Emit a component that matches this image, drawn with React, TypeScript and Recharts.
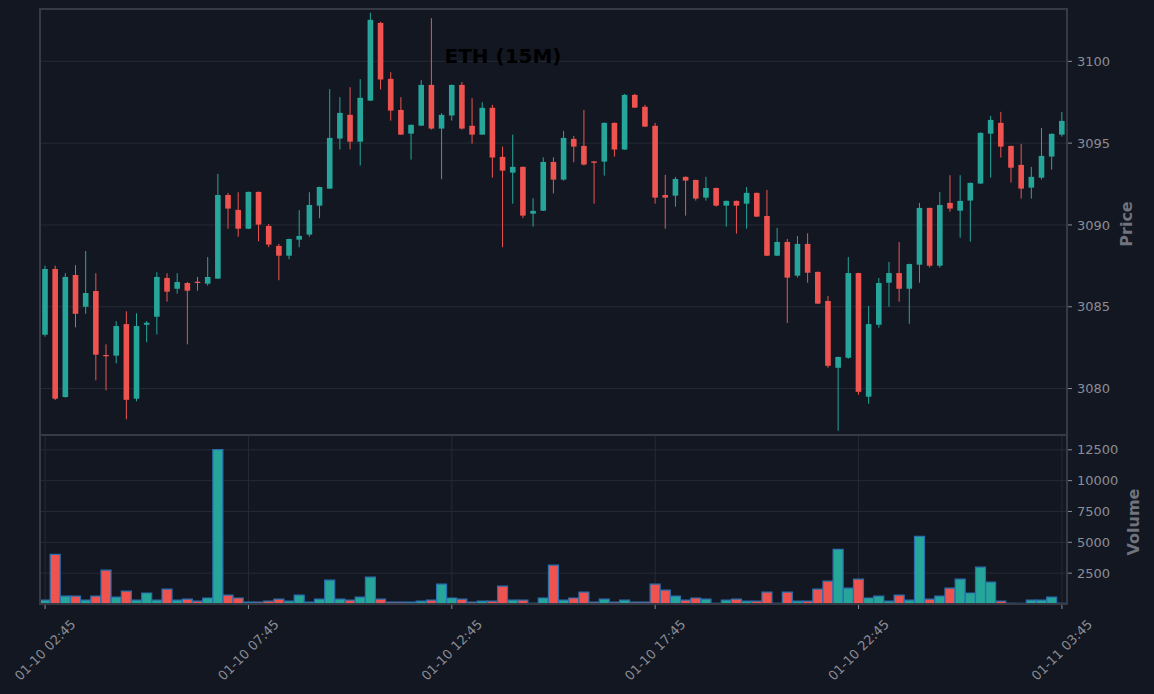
import { ComposedChart, Bar, XAxis, YAxis, CartesianGrid, Cell } from "recharts";

const W = 1154;
const H = 694;
const BG = "#131722";
const UP = "#26a69a";
const DOWN = "#ef5350";
const GRID = "#252a35";
const SPINE = "#363a45";
const TICK = "#8a8d95";
const LABEL = "#70737d";
const EDGE = "#2a70b0";

// 15-minute candles, 01-10 02:45 -> 01-11 03:45
const OPEN = [
  3083.29, 3087.31, 3079.48, 3086.94, 3085.0, 3085.96, 3082.05, 3082.01, 3083.94, 3079.38,
  3083.9, 3084.39, 3086.76, 3086.1, 3086.45, 3086.53, 3086.41, 3086.72, 3091.83, 3090.92,
  3089.77, 3092.02, 3089.94, 3088.72, 3088.12, 3089.1, 3089.41, 3091.18, 3092.22, 3095.28,
  3096.73, 3095.09, 3097.6, 3102.35, 3098.93, 3097.03, 3095.58, 3096.07, 3098.56, 3095.89,
  3096.69, 3098.56, 3096.06, 3095.52, 3097.16, 3094.16, 3093.2, 3093.55, 3090.69, 3090.87,
  3093.85, 3092.77, 3095.26, 3094.83, 3093.88, 3093.87, 3096.24, 3094.61, 3097.95, 3097.22,
  3096.06, 3091.83, 3091.79, 3092.94, 3092.75, 3091.67, 3092.26, 3091.18, 3091.47, 3091.3,
  3091.96, 3090.55, 3088.12, 3088.96, 3086.9, 3088.84, 3087.13, 3085.35, 3081.27, 3081.88,
  3087.06, 3079.5, 3083.9, 3086.47, 3087.06, 3086.1, 3087.57, 3091.04, 3087.51, 3091.35,
  3090.87, 3091.49, 3092.53, 3095.58, 3096.24, 3094.83, 3093.67, 3092.28, 3092.89, 3094.18,
  3095.52,
];
const CLOSE = [
  3087.31, 3079.38, 3086.82, 3084.57, 3085.84, 3082.07, 3082.03, 3083.82, 3079.31, 3083.82,
  3084.02, 3086.82, 3085.92, 3086.51, 3085.98, 3086.5, 3086.82, 3091.83, 3091.0, 3089.77,
  3092.02, 3090.02, 3088.8, 3088.12, 3089.14, 3089.33, 3091.22, 3092.32, 3095.32, 3096.85,
  3095.09, 3097.77, 3102.54, 3098.89, 3096.99, 3095.52, 3096.12, 3098.56, 3095.89, 3096.73,
  3098.56, 3095.89, 3095.52, 3097.16, 3094.12, 3093.32, 3093.55, 3090.57, 3090.86, 3093.85,
  3092.77, 3095.32, 3094.79, 3093.69, 3093.85, 3096.24, 3094.61, 3097.95, 3097.17, 3096.01,
  3091.67, 3091.67, 3092.81, 3092.71, 3091.61, 3092.26, 3091.18, 3091.47, 3091.18, 3091.96,
  3090.51, 3088.12, 3088.96, 3086.78, 3088.84, 3087.08, 3085.19, 3081.39, 3081.93, 3087.06,
  3079.8, 3083.94, 3086.45, 3087.06, 3086.1, 3087.61, 3091.04, 3087.51, 3091.22, 3091.0,
  3091.47, 3092.57, 3095.63, 3096.42, 3094.79, 3093.5, 3092.22, 3092.94, 3094.22, 3095.57,
  3096.36,
];
const HIGH = [
  3087.51, 3087.51, 3087.05, 3087.54, 3088.41, 3087.05, 3082.7, 3084.11, 3084.72, 3084.6,
  3084.13, 3087.11, 3087.05, 3087.05, 3086.51, 3086.82, 3088.04, 3093.12, 3091.96, 3092.0,
  3092.04, 3092.04, 3090.06, 3088.84, 3089.16, 3090.9, 3092.0, 3092.34, 3098.3, 3097.81,
  3098.42, 3098.91, 3102.97, 3102.42, 3099.34, 3097.81, 3096.14, 3098.85, 3102.64, 3096.83,
  3098.58, 3098.73, 3097.75, 3097.5, 3097.34, 3094.79, 3095.52, 3093.57, 3091.63, 3094.13,
  3094.13, 3095.75, 3095.44, 3097.03, 3093.91, 3096.26, 3096.26, 3098.01, 3098.01, 3097.34,
  3096.24, 3093.06, 3092.94, 3092.96, 3092.77, 3092.94, 3092.28, 3091.49, 3091.49, 3092.32,
  3091.98, 3092.14, 3089.82, 3089.14, 3089.33, 3089.49, 3087.15, 3085.66, 3081.95, 3088.04,
  3087.08, 3085.05, 3086.76, 3087.74, 3088.96, 3087.63, 3091.35, 3091.06, 3092.02, 3093.04,
  3093.04, 3092.59, 3095.65, 3096.67, 3096.91, 3094.85, 3094.95, 3093.55, 3095.93, 3095.59,
  3096.91,
];
const LOW = [
  3083.17, 3079.3, 3079.45, 3083.74, 3084.57, 3080.5, 3079.89, 3081.54, 3078.12, 3079.22,
  3082.83, 3083.31, 3085.31, 3085.8, 3082.7, 3085.98, 3086.29, 3086.7, 3089.77, 3089.28,
  3089.75, 3089.0, 3088.64, 3086.62, 3087.9, 3088.64, 3089.28, 3090.41, 3092.2, 3094.61,
  3094.61, 3093.63, 3097.58, 3098.28, 3096.38, 3095.5, 3093.99, 3096.05, 3095.83, 3092.8,
  3096.38, 3095.83, 3094.97, 3095.5, 3092.89, 3088.64, 3091.3, 3090.41, 3089.9, 3090.85,
  3091.93, 3092.71, 3093.83, 3093.63, 3091.3, 3093.02, 3094.18, 3094.59, 3097.15, 3095.99,
  3091.3, 3089.77, 3091.12, 3090.57, 3091.49, 3091.49, 3091.12, 3089.9, 3089.47, 3089.77,
  3090.49, 3088.1, 3088.1, 3084.01, 3086.78, 3086.47, 3085.17, 3081.27, 3077.42, 3081.82,
  3079.62, 3079.07, 3083.72, 3085.0, 3085.31, 3083.96, 3086.47, 3087.39, 3087.39, 3090.81,
  3089.22, 3088.98, 3092.51, 3092.89, 3094.12, 3092.59, 3091.61, 3091.61, 3092.77, 3093.38,
  3095.4,
];
const VOLUME = [
  320, 4030, 645, 645, 320, 645, 2740, 565, 1050, 320,
  890, 320, 1210, 320, 400, 240, 485, 12520, 725, 485,
  160, 160, 240, 400, 240, 725, 160, 400, 1935, 400,
  320, 565, 2180, 400, 160, 160, 160, 240, 320, 1610,
  485, 400, 160, 240, 240, 1450, 320, 320, 60, 485,
  3145, 320, 485, 970, 160, 400, 160, 320, 160, 160,
  1610, 1130, 645, 320, 485, 400, 60, 320, 400, 240,
  240, 970, 60, 970, 240, 240, 1210, 1855, 4435, 1290,
  2015, 485, 645, 240, 725, 320, 5485, 400, 645, 1290,
  2015, 890, 2985, 1775, 240, 60, 60, 320, 320, 565,
  60,
];

const PRICE_TICKS = [3080, 3085, 3090, 3095, 3100];
const VOLUME_TICKS = [2500, 5000, 7500, 10000, 12500];
const LABEL_EVERY = 20;

const pad = (n: number) => String(n).padStart(2, "0");
function timeLabel(i: number) {
  const mins = 2 * 60 + 45 + i * 15;
  const day = 10 + Math.floor(mins / 1440);
  const m = mins % 1440;
  return `01-${pad(day)} ${pad(Math.floor(m / 60))}:${pad(m % 60)}`;
}

const rows = OPEN.map((o, i) => ({
  t: timeLabel(i),
  open: o,
  close: CLOSE[i],
  high: HIGH[i],
  low: LOW[i],
  range: [LOW[i], HIGH[i]],
  volume: VOLUME[i],
  up: CLOSE[i] >= o,
}));
const xTicks = rows.filter((_, i) => i % LABEL_EVERY === 0).map((r) => r.t);

function Candle(props: any) {
  const { x, y, width, height, payload } = props;
  const { open, close, high, low } = payload;
  const h = Math.abs(height);
  const top0 = Math.min(y, y + height);
  const k = h / (high - low);
  const cx = x + width / 2;
  const top = top0 + (high - Math.max(open, close)) * k;
  const bot = top0 + (high - Math.min(open, close)) * k;
  const color = close >= open ? UP : DOWN;
  const bw = width * 0.56;
  return (
    <g>
      <line x1={cx} x2={cx} y1={top0} y2={top0 + h} stroke={color} strokeWidth={1} />
      <rect x={cx - bw / 2} y={top} width={bw} height={Math.max(bot - top, 1.3)} fill={color} />
    </g>
  );
}

function TimeTick(props: any) {
  const { x, y, payload } = props;
  const cy = y + 39;
  return (
    <text
      x={x}
      y={cy}
      transform={`rotate(-45 ${x} ${cy})`}
      textAnchor="middle"
      dominantBaseline="central"
      fontSize={13}
      fill={TICK}
    >
      {payload.value}
    </text>
  );
}

const Y_TICK = { fontSize: 13, fill: TICK };
const abs = { position: "absolute" as const, left: 0, top: 0 };

export default function App() {
  return (
    <div style={{ ...abs, width: W, height: H, background: BG, fontFamily: "DejaVu Sans" }}>
      <div style={abs}>
        <ComposedChart width={W} height={H} data={rows} barCategoryGap={0}
          margin={{ top: 9, left: 40, right: 27, bottom: 258 }}>
          <CartesianGrid stroke={GRID} strokeWidth={1} />
          <XAxis dataKey="t" ticks={xTicks} interval={0} height={1} tick={false} tickLine={false} axisLine={false} />
          <YAxis orientation="right" width={60} domain={[3077.16, 3103.2]} allowDataOverflow
            ticks={PRICE_TICKS} tick={Y_TICK} tickSize={5} tickMargin={5}
            tickLine={{ stroke: TICK }} axisLine={false} />
          <Bar dataKey="range" shape={<Candle />} isAnimationActive={false} />
        </ComposedChart>
      </div>
      <div style={abs}>
        <ComposedChart width={W} height={H} data={rows} barCategoryGap={0}
          margin={{ top: 435, left: 40, right: 27, bottom: 0 }}>
          <CartesianGrid stroke={GRID} strokeWidth={1} />
          <XAxis dataKey="t" ticks={xTicks} interval={0} height={90} tick={<TimeTick />}
            tickSize={5} tickMargin={2} tickLine={{ stroke: TICK }} axisLine={false} />
          <YAxis orientation="right" width={60} domain={[0, 13700]} allowDataOverflow
            ticks={VOLUME_TICKS} tick={Y_TICK} tickSize={5} tickMargin={5}
            tickLine={{ stroke: TICK }} axisLine={false} />
          <Bar dataKey="volume" stroke={EDGE} strokeWidth={1.2} isAnimationActive={false}>
            {rows.map((r, i) => (
              <Cell key={i} fill={r.up ? UP : DOWN} />
            ))}
          </Bar>
        </ComposedChart>
      </div>
      <svg style={{ ...abs, pointerEvents: "none" }} width={W} height={H}>
        <rect x={40} y={9} width={1027} height={426} fill="none" stroke={SPINE} strokeWidth={2} />
        <rect x={40} y={435} width={1027} height={169} fill="none" stroke={SPINE} strokeWidth={2} />
        <text x={503} y={56} textAnchor="middle" dominantBaseline="central" fontSize={20} fontWeight="bold" fill="#000">
          ETH (15M)
        </text>
        <text x={1126} y={224} transform="rotate(-90 1126 224)" textAnchor="middle" dominantBaseline="central"
          fontSize={16} fontWeight="bold" fill={LABEL}>
          Price
        </text>
        <text x={1133} y={522} transform="rotate(-90 1133 522)" textAnchor="middle" dominantBaseline="central"
          fontSize={16} fontWeight="bold" fill={LABEL}>
          Volume
        </text>
      </svg>
    </div>
  );
}
